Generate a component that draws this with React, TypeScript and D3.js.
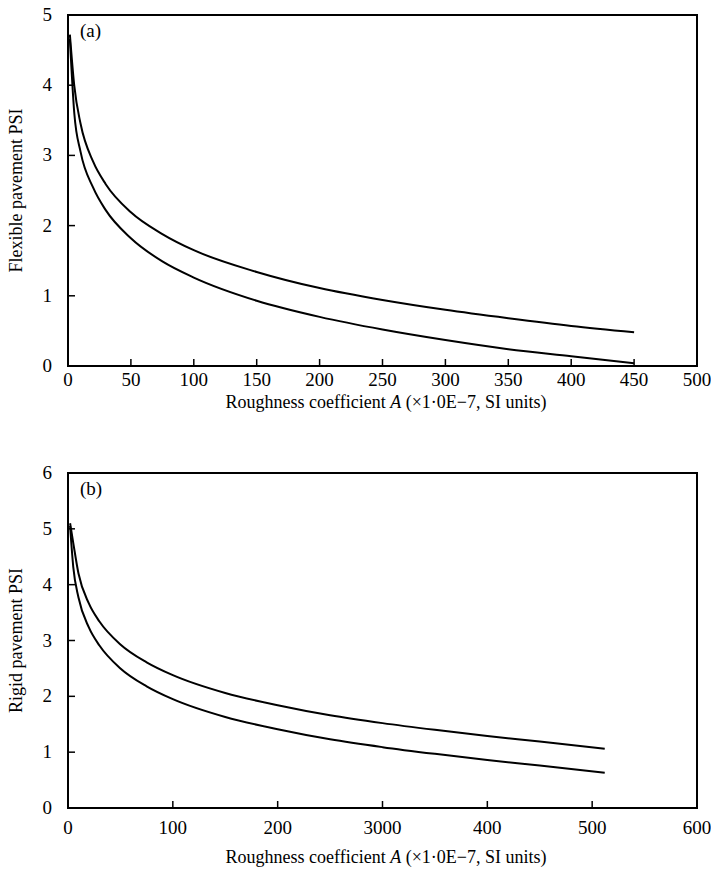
import React from "react";
import * as d3 from "d3";

// panel (a) flexible pavement
const flexA = [1.5, 5, 10, 20, 30, 50, 75, 100, 150, 200, 250, 300, 350, 400, 450];
const flexUpper = [4.72, 3.99, 3.45, 2.91, 2.59, 2.19, 1.88, 1.65, 1.34, 1.11, 0.94, 0.8, 0.68, 0.57, 0.48];
const flexLower = [4.66, 3.6, 3.05, 2.54, 2.22, 1.82, 1.49, 1.26, 0.93, 0.7, 0.52, 0.37, 0.24, 0.14, 0.04];
const flexXTicks = [0, 50, 100, 150, 200, 250, 300, 350, 400, 450, 500];
const flexYTicks = [0, 1, 2, 3, 4, 5];

// panel (b) rigid pavement
const rigidA = [2, 5, 10, 20, 30, 50, 75, 100, 150, 200, 250, 300, 350, 400, 450, 512];
const rigidUpper = [5.1, 4.75, 4.2, 3.66, 3.34, 2.93, 2.61, 2.38, 2.06, 1.84, 1.66, 1.52, 1.4, 1.29, 1.19, 1.06];
const rigidLower = [5.05, 4.32, 3.77, 3.23, 2.91, 2.5, 2.18, 1.95, 1.63, 1.41, 1.23, 1.09, 0.97, 0.86, 0.76, 0.63];
const rigidXTicks = [0, 100, 200, 300, 400, 500, 600];
const rigidXLabels = ["0", "100", "200", "3000", "400", "500", "600"];
const rigidYTicks = [0, 1, 2, 3, 4, 5, 6];

const FONT = "'Liberation Serif', 'Times New Roman', serif";
const xTitle = "Roughness coefficient ";

type PanelProps = {
  top: number;
  bottom: number;
  xMax: number;
  yMax: number;
  xs: number[];
  upper: number[];
  lower: number[];
  xTicks: number[];
  xLabels: string[];
  yTicks: number[];
  tag: string;
  yTitle: string;
  tickGap: number;
  titleGap: number;
};

const Panel = ({ top, bottom, xMax, yMax, xs, upper, lower, xTicks, xLabels, yTicks, tag, yTitle, tickGap, titleGap }: PanelProps) => {
  const left = 68;
  const right = 697;
  const x = d3.scaleLinear().domain([0, xMax]).range([left, right]);
  const y = d3.scaleLinear().domain([0, yMax]).range([bottom, top]);

  const line = d3
    .line<number>()
    .x((_, i) => x(xs[i]))
    .y((d) => y(d))
    .curve(d3.curveMonotoneX);

  return (
    <g fontFamily={FONT} fill="#000">
      <rect x={left} y={top} width={right - left} height={bottom - top} fill="none" stroke="#000" strokeWidth={2} />
      {/* inward ticks */}
      {xTicks.slice(1, -1).map((t) => (
        <line key={"xt" + t} x1={x(t)} x2={x(t)} y1={bottom} y2={bottom - 7} stroke="#000" strokeWidth={1.5} />
      ))}
      {yTicks.slice(1, -1).map((t) => (
        <line key={"yt" + t} x1={left} x2={left + 7} y1={y(t)} y2={y(t)} stroke="#000" strokeWidth={1.5} />
      ))}
      {xTicks.map((t, i) => (
        <text key={"xl" + t} x={x(t)} y={bottom + tickGap} textAnchor="middle" fontSize={19}>
          {xLabels[i]}
        </text>
      ))}
      {yTicks.map((t) => (
        <text key={"yl" + t} x={52} y={y(t) + 6} textAnchor="end" fontSize={19}>
          {t}
        </text>
      ))}
      <path d={line(upper) ?? ""} fill="none" stroke="#000" strokeWidth={2} />
      <path d={line(lower) ?? ""} fill="none" stroke="#000" strokeWidth={2} />
      <text x={80} y={top + 22} fontSize={19}>
        {tag}
      </text>
      <text x={386} y={bottom + titleGap} textAnchor="middle" fontSize={18}>
        {xTitle}
        <tspan fontStyle="italic">A</tspan> (×1·0E−7, SI units)
      </text>
      <text transform={`translate(22,${(top + bottom) / 2}) rotate(-90)`} textAnchor="middle" fontSize={18}>
        {yTitle}
      </text>
    </g>
  );
};

export default function App() {
  return (
    <div style={{ position: "absolute", left: 0, top: 0 }}>
      <svg width={711} height={870} style={{ display: "block", background: "#fff" }}>
        <Panel
          top={15}
          bottom={366}
          xMax={500}
          yMax={5}
          xs={flexA}
          upper={flexUpper}
          lower={flexLower}
          xTicks={flexXTicks}
          xLabels={flexXTicks.map(String)}
          yTicks={flexYTicks}
          tag="(a)"
          yTitle="Flexible pavement PSI"
          tickGap={20}
          titleGap={42}
        />
        <Panel
          top={473}
          bottom={808}
          xMax={600}
          yMax={6}
          xs={rigidA}
          upper={rigidUpper}
          lower={rigidLower}
          xTicks={rigidXTicks}
          xLabels={rigidXLabels}
          yTicks={rigidYTicks}
          tag="(b)"
          yTitle="Rigid pavement PSI"
          tickGap={26}
          titleGap={55}
        />
      </svg>
    </div>
  );
}
